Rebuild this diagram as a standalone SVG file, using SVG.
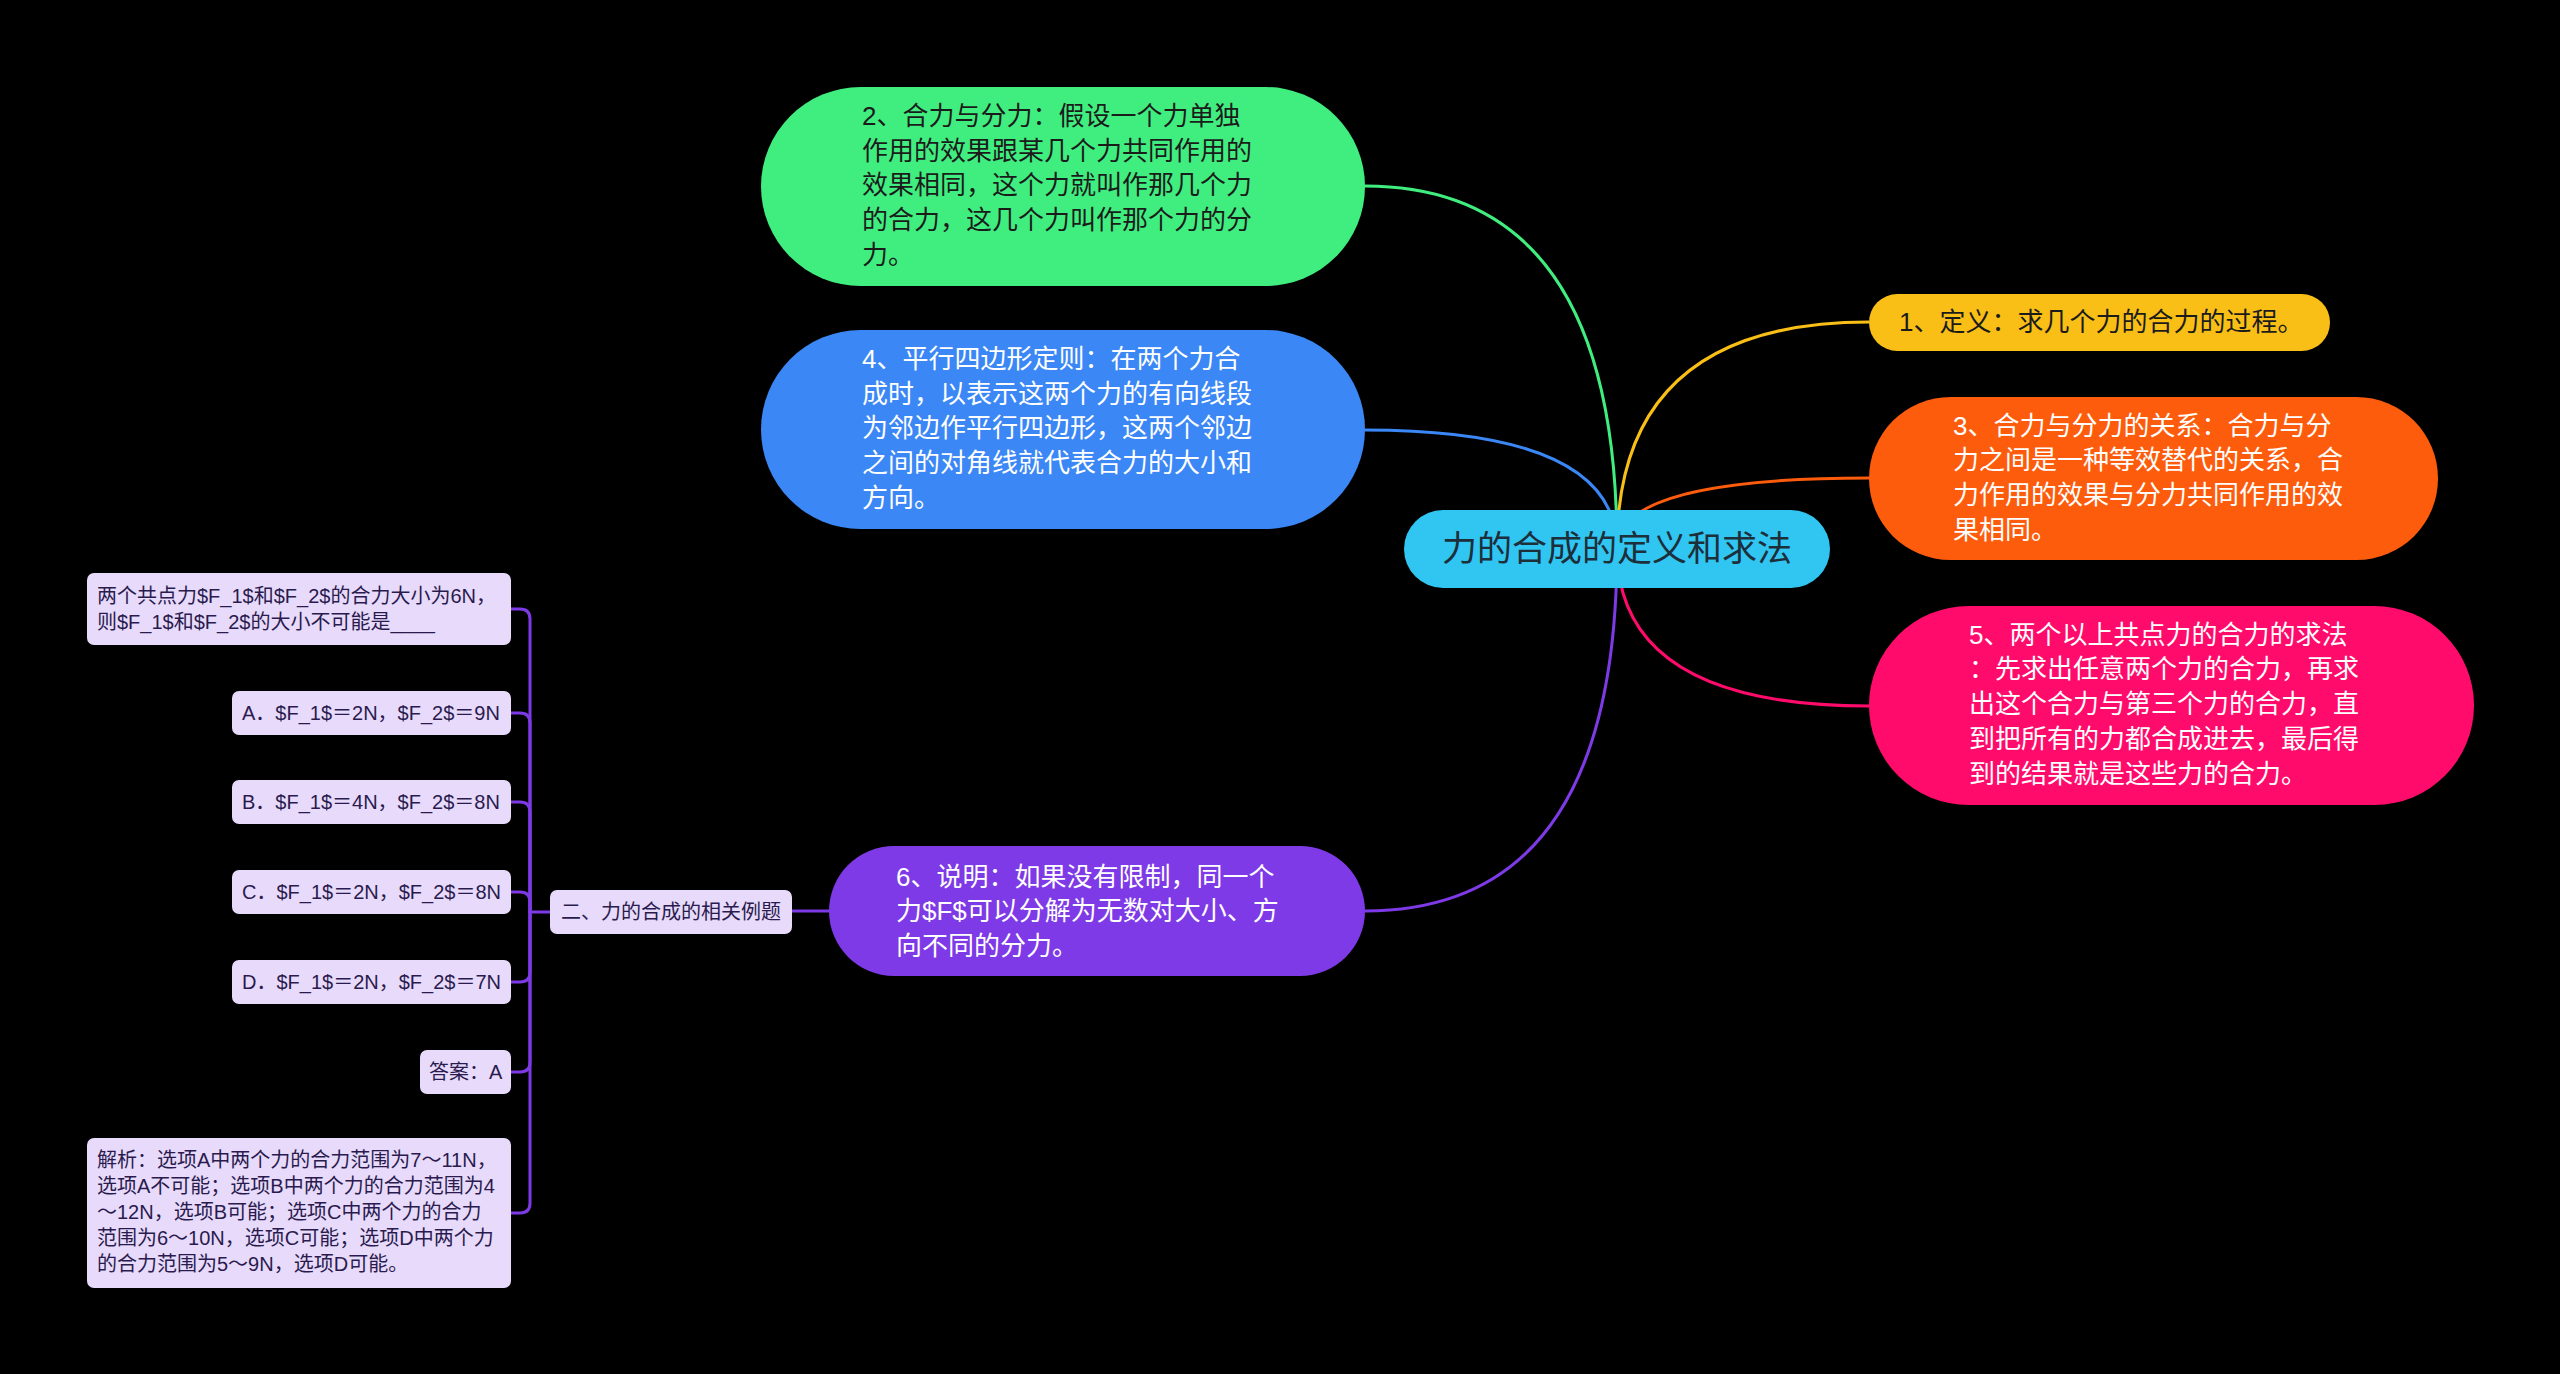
<svg xmlns="http://www.w3.org/2000/svg" width="2560" height="1374" viewBox="0 0 2560 1374">
<style>
text{font-family:"Liberation Sans","Noto Sans CJK SC",sans-serif;}
.t26{font-size:26px;}
.t20{font-size:20px;fill:#2a1a4e;}
.dark{fill:#1b1b1b;}
.white{fill:#ffffff;}
.lav{fill:#e7dafb;}
.conn{fill:none;stroke-width:3;}
</style>
<rect x="0" y="0" width="2560" height="1374" fill="#000000"/>
<g id="connectors">
<path class="conn" stroke="#40ee80" d="M1617,548 Q1617,186 1365,186"/>
<path class="conn" stroke="#3b87f5" d="M1617,548 Q1617,430 1365,430"/>
<path class="conn" stroke="#7e3ae6" d="M1617,548 Q1617,911 1365,911"/>
<path class="conn" stroke="#f9bf16" d="M1617,548 Q1617,322 1869,322"/>
<path class="conn" stroke="#fd5c0c" d="M1617,548 Q1617,478 1869,478"/>
<path class="conn" stroke="#ff0b6c" d="M1617,548 Q1617,706 1869,706"/>
<path class="conn" stroke="#7e3ae6" d="M829,911 H792"/>
<g stroke="#7e3ae6" class="conn">
<path d="M511,609 H520 Q530,609 530,619 V912 H550"/>
<path d="M511,713 H520 Q530,713 530,723 V912"/>
<path d="M511,802 H520 Q530,802 530,812 V912"/>
<path d="M511,892 H520 Q530,892 530,902 V912"/>
<path d="M511,982 H520 Q530,982 530,972 V912"/>
<path d="M511,1072 H520 Q530,1072 530,1062 V912"/>
<path d="M511,1213 H520 Q530,1213 530,1203 V912"/>
</g>
</g>
<g id="center">
<rect x="1404" y="510" width="426" height="78" rx="39" fill="#31c5f2"/>
<text x="1617" y="561" font-size="35" text-anchor="middle" fill="#1c2f3a">力的合成的定义和求法</text>
</g>
<g id="n2">
<rect x="761" y="87" width="604" height="199" rx="99.5" fill="#40ee80"/>
<text class="t26 dark"><tspan x="862" y="125">2、合力与分力：假设一个力单独</tspan><tspan x="862" y="160">作用的效果跟某几个力共同作用的</tspan><tspan x="862" y="194">效果相同，这个力就叫作那几个力</tspan><tspan x="862" y="229">的合力，这几个力叫作那个力的分</tspan><tspan x="862" y="264">力。</tspan></text>
</g>
<g id="n4">
<rect x="761" y="330" width="604" height="199" rx="99.5" fill="#3b87f5"/>
<text class="t26 white"><tspan x="862" y="368">4、平行四边形定则：在两个力合</tspan><tspan x="862" y="403">成时，以表示这两个力的有向线段</tspan><tspan x="862" y="437">为邻边作平行四边形，这两个邻边</tspan><tspan x="862" y="472">之间的对角线就代表合力的大小和</tspan><tspan x="862" y="507">方向。</tspan></text>
</g>
<g id="n6">
<rect x="829" y="846" width="536" height="130" rx="65" fill="#7e3ae6"/>
<text class="t26 white"><tspan x="896" y="886">6、说明：如果没有限制，同一个</tspan><tspan x="896" y="920">力$F$可以分解为无数对大小、方</tspan><tspan x="896" y="955">向不同的分力。</tspan></text>
</g>
<g id="n1">
<rect x="1869" y="294" width="461" height="57" rx="28.5" fill="#f9bf16"/>
<text class="t26 dark" x="1899" y="331">1、定义：求几个力的合力的过程。</text>
</g>
<g id="n3">
<rect x="1869" y="397" width="569" height="163" rx="81.5" fill="#fd5c0c"/>
<text class="t26 white"><tspan x="1953" y="435">3、合力与分力的关系：合力与分</tspan><tspan x="1953" y="469">力之间是一种等效替代的关系，合</tspan><tspan x="1953" y="504">力作用的效果与分力共同作用的效</tspan><tspan x="1953" y="539">果相同。</tspan></text>
</g>
<g id="n5">
<rect x="1869" y="606" width="605" height="199" rx="99.5" fill="#ff0b6c"/>
<text class="t26 white"><tspan x="1969" y="644">5、两个以上共点力的合力的求法</tspan><tspan x="1969" y="678">：先求出任意两个力的合力，再求</tspan><tspan x="1969" y="713">出这个合力与第三个力的合力，直</tspan><tspan x="1969" y="748">到把所有的力都合成进去，最后得</tspan><tspan x="1969" y="783">到的结果就是这些力的合力。</tspan></text>
</g>
<g id="ex">
<rect class="lav" x="550" y="890" width="242" height="44" rx="7"/>
<text class="t20" x="561" y="919">二、力的合成的相关例题</text>
</g>
<g id="q">
<rect class="lav" x="87" y="573" width="424" height="72" rx="7"/>
<text class="t20"><tspan x="97" y="603">两个共点力$F_1$和$F_2$的合力大小为6N，</tspan><tspan x="97" y="629">则$F_1$和$F_2$的大小不可能是____</tspan></text>
</g>
<g id="oa">
<rect class="lav" x="232" y="691" width="279" height="44" rx="7"/>
<text class="t20" x="242" y="720">A．$F_1$＝2N，$F_2$＝9N</text>
</g>
<g id="ob">
<rect class="lav" x="232" y="780" width="279" height="44" rx="7"/>
<text class="t20" x="242" y="809">B．$F_1$＝4N，$F_2$＝8N</text>
</g>
<g id="oc">
<rect class="lav" x="232" y="870" width="279" height="44" rx="7"/>
<text class="t20" x="242" y="899">C．$F_1$＝2N，$F_2$＝8N</text>
</g>
<g id="od">
<rect class="lav" x="232" y="960" width="279" height="44" rx="7"/>
<text class="t20" x="242" y="989">D．$F_1$＝2N，$F_2$＝7N</text>
</g>
<g id="ans">
<rect class="lav" x="420" y="1050" width="91" height="44" rx="7"/>
<text class="t20" x="429" y="1079">答案：A</text>
</g>
<g id="jx">
<rect class="lav" x="87" y="1138" width="424" height="150" rx="7"/>
<text class="t20"><tspan x="97" y="1167">解析：选项A中两个力的合力范围为7～11N，</tspan><tspan x="97" y="1193">选项A不可能；选项B中两个力的合力范围为4</tspan><tspan x="97" y="1219">～12N，选项B可能；选项C中两个力的合力</tspan><tspan x="97" y="1245">范围为6～10N，选项C可能；选项D中两个力</tspan><tspan x="97" y="1271">的合力范围为5～9N，选项D可能。</tspan></text>
</g>
</svg>
